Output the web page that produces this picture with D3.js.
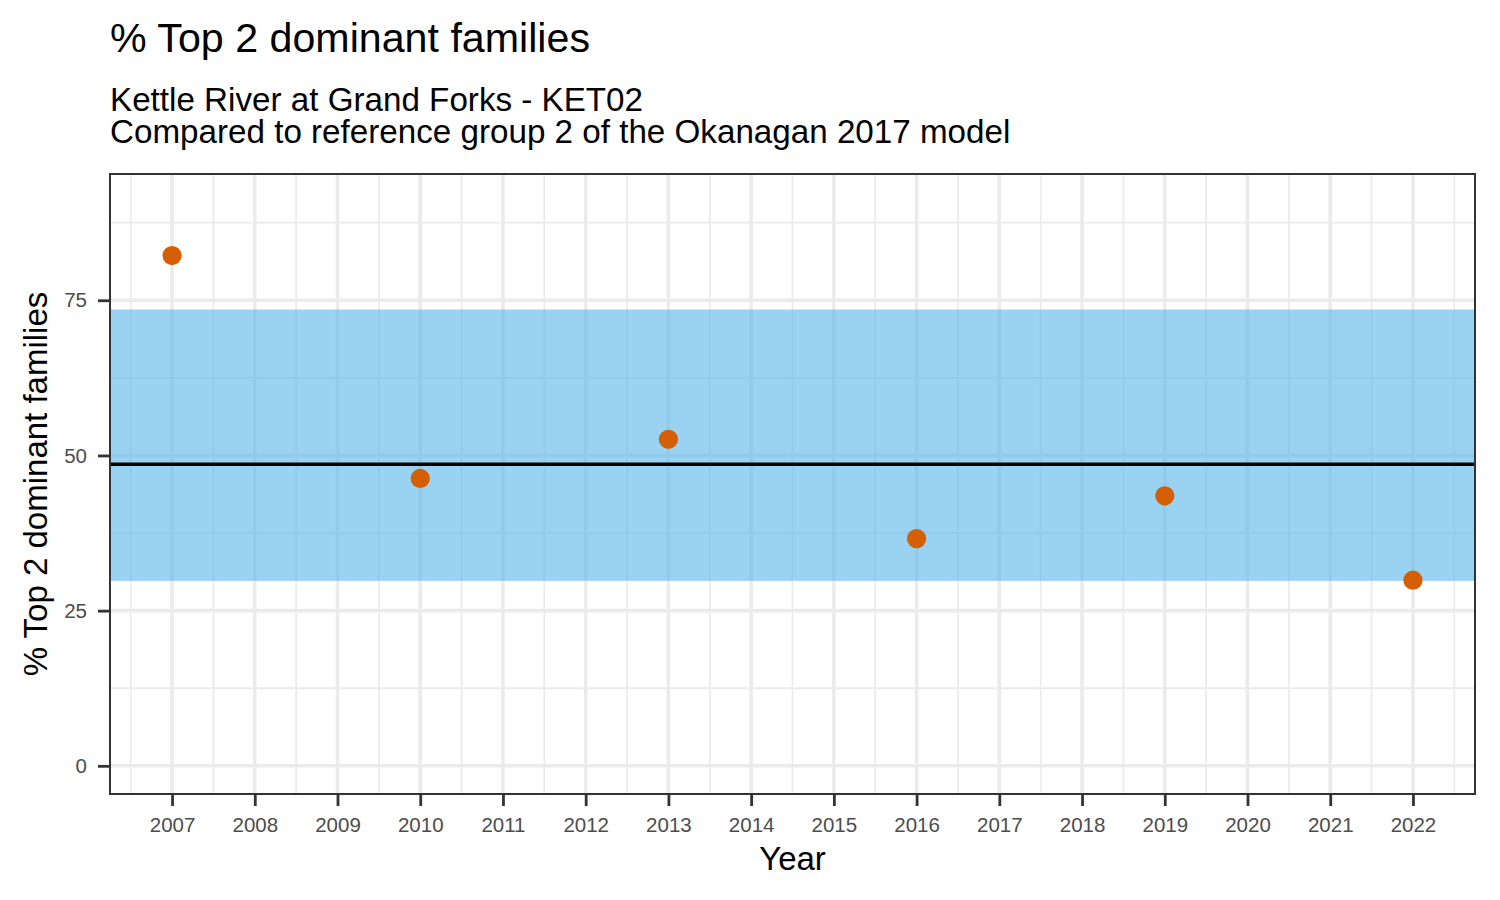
<!DOCTYPE html>
<html>
<head>
<meta charset="utf-8">
<script src="https://cdn.jsdelivr.net/npm/d3@7"></script>
<style>
  body { margin: 0; background: #fff; }
  text { font-family: "Liberation Sans", Arial, sans-serif; }
</style>
</head>
<body>
<div id="chart"></div>
<script>
// data
const years = [2007, 2010, 2013, 2016, 2019, 2022];
const values = [82.2, 46.3, 52.6, 36.6, 43.5, 29.9];
const xTicks = d3.range(2007, 2023);
const yTicks = [0, 25, 50, 75];
const refLow = 29.8;   // reference range, lower
const refHigh = 73.5;  // reference range, upper
const refMedian = 48.6;

const titleText = "% Top 2 dominant families";
const subtitleLines = [
  "Kettle River at Grand Forks - KET02",
  "Compared to reference group 2 of the Okanagan 2017 model",
];
const xLabel = "Year";
const yLabel = "% Top 2 dominant families";

drawChart();

function drawChart() {
  const width = 1500, height = 900;
  const panel = {left: 110, right: 1475, top: 174, bottom: 794};

  const svg = d3.select("#chart")
      .append("svg")
      .attr("width", width)
      .attr("height", height);

  // ggplot-style 5% expansion
  const xExt = [d3.min(years), d3.max(years)];
  const xPad = (xExt[1] - xExt[0]) * 0.05;
  const scaleX = d3.scaleLinear()
      .domain([xExt[0] - xPad, xExt[1] + xPad])
      .range([panel.left, panel.right]);

  const yExt = [0, 90.8];
  const yPad = (yExt[1] - yExt[0]) * 0.05;
  const scaleY = d3.scaleLinear()
      .domain([yExt[0] - yPad, yExt[1] + yPad])
      .range([panel.bottom, panel.top]);

  const xMinor = xTicks.map(d => d - 0.5).concat([d3.max(xTicks) + 0.5]);
  const yMinor = [12.5, 37.5, 62.5, 87.5];

  const grid = svg.append("g");
  grid.selectAll(".xminor")
    .data(xMinor)
    .join("line")
      .attr("x1", d => scaleX(d)).attr("x2", d => scaleX(d))
      .attr("y1", panel.top).attr("y2", panel.bottom)
      .attr("stroke", "#ebebeb").attr("stroke-width", 1.8);
  grid.selectAll(".yminor")
    .data(yMinor)
    .join("line")
      .attr("x1", panel.left).attr("x2", panel.right)
      .attr("y1", d => scaleY(d)).attr("y2", d => scaleY(d))
      .attr("stroke", "#ebebeb").attr("stroke-width", 1.8);
  grid.selectAll(".xmajor")
    .data(xTicks)
    .join("line")
      .attr("x1", d => scaleX(d)).attr("x2", d => scaleX(d))
      .attr("y1", panel.top).attr("y2", panel.bottom)
      .attr("stroke", "#ebebeb").attr("stroke-width", 3.6);
  grid.selectAll(".ymajor")
    .data(yTicks)
    .join("line")
      .attr("x1", panel.left).attr("x2", panel.right)
      .attr("y1", d => scaleY(d)).attr("y2", d => scaleY(d))
      .attr("stroke", "#ebebeb").attr("stroke-width", 3.6);

  // reference band across the whole panel
  svg.append("rect")
      .attr("x", panel.left)
      .attr("width", panel.right - panel.left)
      .attr("y", scaleY(refHigh))
      .attr("height", scaleY(refLow) - scaleY(refHigh))
      .attr("fill", "#56B4E9")
      .attr("fill-opacity", 0.6);

  svg.append("line")
      .attr("x1", panel.left).attr("x2", panel.right)
      .attr("y1", scaleY(refMedian)).attr("y2", scaleY(refMedian))
      .attr("stroke", "#000").attr("stroke-width", 3.5);

  svg.append("g")
    .selectAll("circle")
    .data(years.map((y, i) => ({year: y, value: values[i]})))
    .join("circle")
      .attr("cx", d => scaleX(d.year))
      .attr("cy", d => scaleY(d.value))
      .attr("r", 9.6)
      .attr("fill", "#D55E00");

  svg.append("rect")
      .attr("x", panel.left).attr("y", panel.top)
      .attr("width", panel.right - panel.left)
      .attr("height", panel.bottom - panel.top)
      .attr("fill", "none")
      .attr("stroke", "#333333")
      .attr("stroke-width", 2);

  // axes
  const xAxis = svg.append("g")
      .attr("transform", `translate(0, ${panel.bottom + 1})`)
      .call(d3.axisBottom(scaleX).tickValues(xTicks).tickFormat(d3.format("d"))
        .tickSize(11).tickPadding(11));
  xAxis.select(".domain").remove();
  xAxis.selectAll("line").attr("stroke", "#333333").attr("stroke-width", 2.8);
  xAxis.selectAll("text").attr("fill", "#4d4d4d").style("font-size", "20.5px")
      .style("font-family", "Liberation Sans, Arial, sans-serif");

  const yAxis = svg.append("g")
      .attr("transform", `translate(${panel.left - 1}, 0)`)
      .call(d3.axisLeft(scaleY).tickValues(yTicks).tickSize(11).tickPadding(11));
  yAxis.select(".domain").remove();
  yAxis.selectAll("line").attr("stroke", "#333333").attr("stroke-width", 2.8);
  yAxis.selectAll("text").attr("fill", "#4d4d4d").style("font-size", "20.5px")
      .style("font-family", "Liberation Sans, Arial, sans-serif");

  // titles
  svg.append("text")
      .attr("x", panel.left).attr("y", 52)
      .style("font-size", "41.2px")
      .text(titleText);

  svg.append("g")
    .selectAll("text")
    .data(subtitleLines)
    .join("text")
      .attr("x", panel.left)
      .attr("y", (d, i) => 111 + i * 32)
      .style("font-size", "33.2px")
      .text(d => d);

  svg.append("text")
      .attr("x", (panel.left + panel.right) / 2)
      .attr("y", 870)
      .attr("text-anchor", "middle")
      .style("font-size", "33px")
      .text(xLabel);

  svg.append("text")
      .attr("transform", `translate(47, ${(panel.top + panel.bottom) / 2}) rotate(-90)`)
      .attr("text-anchor", "middle")
      .style("font-size", "33px")
      .text(yLabel);
}
</script>
</body>
</html>
